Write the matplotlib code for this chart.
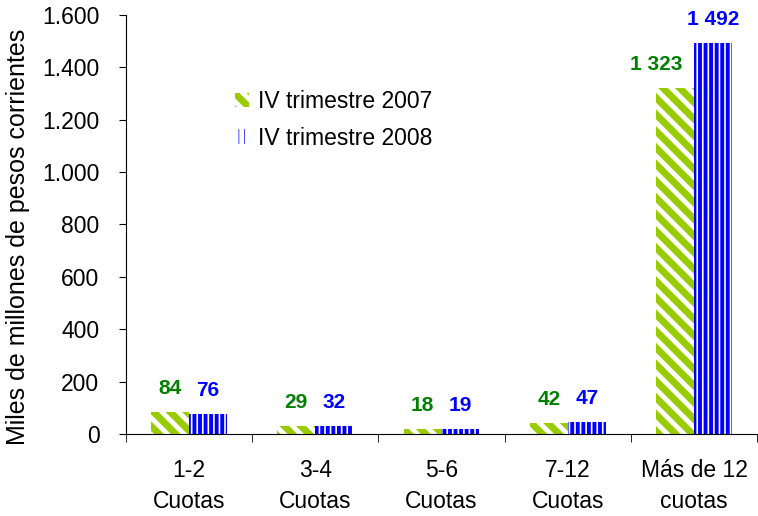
import numpy as np
import matplotlib.pyplot as plt
import matplotlib
from matplotlib.ticker import FuncFormatter, FixedLocator

matplotlib.rcParams['font.family'] = ['Liberation Sans', 'DejaVu Sans']
matplotlib.rcParams['hatch.linewidth'] = 3.5

# datos
categorias = ['1-2\nCuotas', '3-4\nCuotas', '5-6\nCuotas', '7-12\nCuotas', 'Más de 12\ncuotas']
trim2007 = [84, 29, 18, 42, 1323]
trim2008 = [76, 32, 19, 47, 1492]
yTicks = [0, 200, 400, 600, 800, 1000, 1200, 1400, 1600]

verde = '#99CC00'
azul = '#0000FF'

fig = plt.figure(figsize=(7.58, 5.16), dpi=100)
ax = fig.add_axes([0.166, 0.159, 0.833, 0.812])

x = np.arange(len(categorias))
w = 0.3
b1 = ax.bar(x - w / 2, trim2007, w, color=verde, edgecolor='white', linewidth=0,
            hatch='\\\\', label='IV trimestre 2007')
b2 = ax.bar(x + w / 2, trim2008, w, color=azul, edgecolor='white', linewidth=0,
            hatch='|||', label='IV trimestre 2008')
for p in b2:
    if hasattr(p, 'set_hatch_linewidth'):
        p.set_hatch_linewidth(1.2)

def fmtNum(v):
    return '{:,}'.format(v).replace(',', ' ')

# etiquetas de valor; la etiqueta verde ancha se corre a la izquierda
for bars, vals, c, dx in [(b1, trim2007, '#008000', -14), (b2, trim2008, azul, 0)]:
    for p, v in zip(bars, vals):
        off = dx if v >= 1000 else 0
        ax.annotate(fmtNum(v), (p.get_x() + p.get_width() / 2, v), xytext=(off, 10),
                    textcoords='offset points', ha='center', va='bottom',
                    fontsize=15, fontweight='bold', color=c)

ax.set_xlim(-0.5, len(categorias) - 0.5)
ax.set_ylim(0, 1600)
ax.set_yticks(yTicks)
ax.yaxis.set_major_formatter(FuncFormatter(lambda v, p: '{:,.0f}'.format(v).replace(',', '.')))
ax.set_xticks(x)
ax.set_xticklabels(categorias, fontsize=16.5, linespacing=1.42)
ax.xaxis.set_minor_locator(FixedLocator(np.arange(-0.5, len(categorias), 1)))
ax.tick_params(axis='x', which='major', length=0, pad=18)
ax.tick_params(axis='x', which='minor', length=6, direction='out')
ax.tick_params(axis='y', length=5, direction='out', labelsize=16.5, pad=14)
ax.spines['top'].set_visible(False)
ax.spines['right'].set_visible(False)
ax.set_ylabel('Miles de millones de pesos corrientes', fontsize=18)
ax.yaxis.set_label_coords(-0.152, 0.47)

ax.legend(loc='upper left', bbox_to_anchor=(0.14, 0.87), frameon=False, fontsize=16.5,
          handlelength=0.6, handleheight=0.6, handletextpad=0.4, labelspacing=0.6)

fig.savefig('out.png', dpi=100)
